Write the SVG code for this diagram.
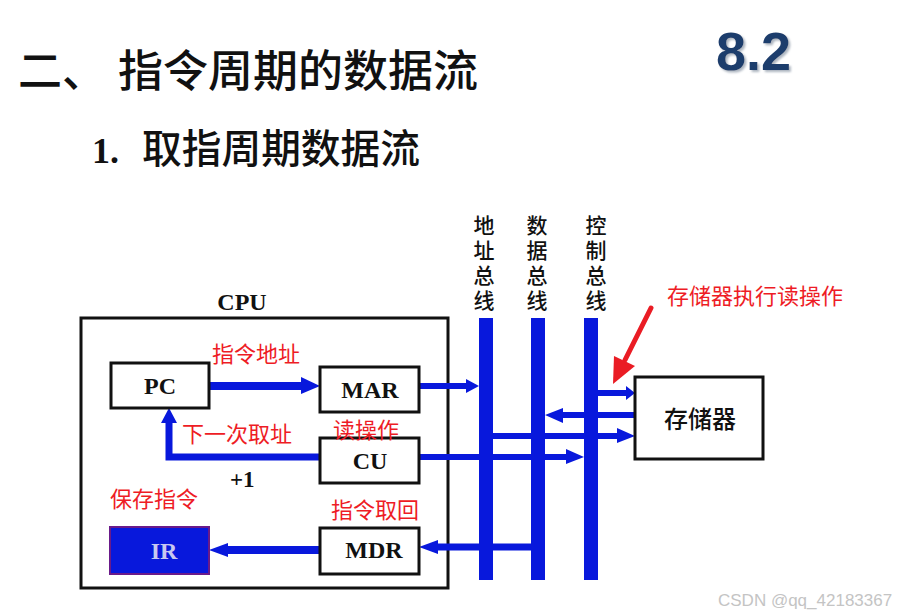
<svg xmlns="http://www.w3.org/2000/svg" width="903" height="614" viewBox="0 0 903 614">
<defs>
<filter id="sh" x="-10%" y="-10%" width="130%" height="140%">
<feDropShadow dx="2" dy="2" stdDeviation="1.2" flood-color="#8a96a6" flood-opacity="0.7"/>
</filter>
</defs>
<style>
.box{fill:#fff;stroke:#111;stroke-width:3}
.lbl{font-family:"Liberation Serif",serif;font-weight:bold;font-size:24px;fill:#111;text-anchor:middle}
.red{font-family:"Noto Sans CJK SC",sans-serif;font-size:22px;fill:#ee1c25}
.bus{fill:#0818dc}
.ln{stroke:#0818dc;fill:none}
.ah{fill:#0818dc}
.vt{font-family:"Noto Sans CJK SC",sans-serif;font-weight:500;font-size:21px;fill:#111;writing-mode:vertical-rl;letter-spacing:4px}
.hd{font-family:"Noto Sans CJK SC",sans-serif;font-weight:500;fill:#111}
</style>
<rect width="903" height="614" fill="#fff"/>
<g id="title">
<text class="hd" x="18" y="87" font-size="44">二、</text>
<text class="hd" x="118" y="87" font-size="44" textLength="360" lengthAdjust="spacingAndGlyphs">指令周期的数据流</text>
<text x="716" y="70" font-family="Liberation Sans,sans-serif" font-weight="bold" font-size="54" fill="#1f3e6c" filter="url(#sh)">8.2</text>
<text x="92" y="163" font-family="Liberation Serif,serif" font-weight="bold" font-size="36" fill="#111">1.</text>
<text class="hd" x="142" y="163" font-size="40" textLength="278" lengthAdjust="spacingAndGlyphs">取指周期数据流</text>
</g>
<g id="cpu">
<rect x="81" y="318" width="367" height="270" fill="none" stroke="#111" stroke-width="3"/>
<text class="lbl" x="242" y="310">CPU</text>
</g>
<g id="connectors">
<line class="ln" x1="209" y1="386" x2="302" y2="386" stroke-width="8"/>
<polygon class="ah" points="301,377 320,386 301,394"/>
<line class="ln" x1="419" y1="386" x2="467" y2="386" stroke-width="6"/>
<polygon class="ah" points="466,379 479,386 466,393"/>
<polyline class="ln" points="320,457 169,457 169,421" stroke-width="7"/>
<polygon class="ah" points="161,423 169,408 177,423"/>
<line class="ln" x1="419" y1="457" x2="567" y2="457" stroke-width="6"/>
<polygon class="ah" points="566,449 584,457 566,464"/>
<line class="ln" x1="493" y1="436" x2="618" y2="436" stroke-width="6"/>
<polygon class="ah" points="617,428 635,436 617,443"/>
<line class="ln" x1="635" y1="415" x2="562" y2="415" stroke-width="6"/>
<polygon class="ah" points="563,408 545,415 563,423"/>
<line class="ln" x1="598" y1="393" x2="627" y2="393" stroke-width="6"/>
<polygon class="ah" points="626,386 635,393 626,400"/>
<line class="ln" x1="531" y1="547" x2="437" y2="547" stroke-width="7"/>
<polygon class="ah" points="438,540 419,547 438,554"/>
<line class="ln" x1="320" y1="550" x2="227" y2="550" stroke-width="8"/>
<polygon class="ah" points="228,543 209,550 228,557"/>
<line x1="651" y1="308" x2="625" y2="360" stroke="#ea1c24" stroke-width="5" stroke-linecap="round"/>
<polygon points="613,384 614,356 635,366" fill="#ea1c24"/>
</g>
<g id="pc">
<rect class="box" x="111" y="363" width="98" height="45"/>
<text class="lbl" x="160" y="394">PC</text>
</g>
<g id="mar">
<rect class="box" x="320" y="367" width="99" height="45"/>
<text class="lbl" x="370" y="398">MAR</text>
</g>
<g id="cu">
<rect class="box" x="320" y="438" width="99" height="45"/>
<text class="lbl" x="370" y="469">CU</text>
</g>
<g id="ir">
<rect x="110" y="527" width="99" height="47" fill="#0818dc" stroke="#6a1a8a" stroke-width="2"/>
<text class="lbl" x="164" y="559" style="fill:#c8c8f0">IR</text>
</g>
<g id="mdr">
<rect class="box" x="320" y="528" width="99" height="46"/>
<text class="lbl" x="374" y="558">MDR</text>
</g>
<g id="memory">
<rect class="box" x="635" y="377" width="128" height="82"/>
<text x="700" y="428" font-family="Noto Sans CJK SC,sans-serif" font-weight="500" font-size="24" fill="#111" text-anchor="middle">存储器</text>
</g>
<g id="addr-bus">
<rect class="bus" x="479" y="318" width="14" height="262"/>
<text class="vt" x="484" y="215">地址总线</text>
</g>
<g id="data-bus">
<rect class="bus" x="531" y="318" width="14" height="262"/>
<text class="vt" x="537" y="215">数据总线</text>
</g>
<g id="ctrl-bus">
<rect class="bus" x="584" y="318" width="14" height="262"/>
<text class="vt" x="596" y="215">控制总线</text>
</g>
<g id="labels">
<text class="red" x="212" y="362" font-size="23">指令地址</text>
<text class="red" x="182" y="442">下一次取址</text>
<text class="red" x="333" y="438" font-size="24">读操作</text>
<text class="red" x="110" y="507">保存指令</text>
<text class="red" x="331" y="518">指令取回</text>
<text x="230" y="487" font-family="Liberation Serif,serif" font-weight="bold" font-size="23" fill="#111">+1</text>
<text class="red" x="667" y="304" font-size="24">存储器执行读操作</text>
<text x="718" y="606" font-family="Liberation Sans,sans-serif" font-size="17" fill="#c4c4c4">CSDN @qq_42183367</text>
</g>
</svg>
